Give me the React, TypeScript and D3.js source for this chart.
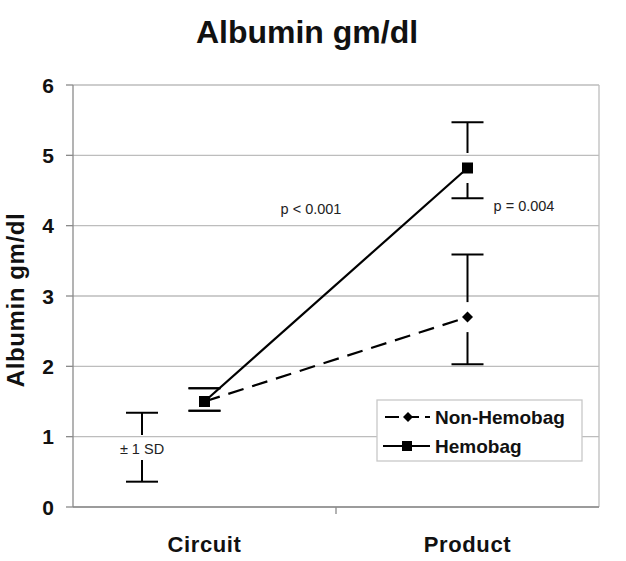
import React from "react";
import * as d3 from "d3";

const categories = ["Circuit", "Product"];
const yTicks = [0, 1, 2, 3, 4, 5, 6];

const hemobagMean = [1.5, 4.82];
const hemobagUpper = [1.69, 5.47];
const hemobagLower = [1.37, 4.39];

const nonHemobagMean = [1.5, 2.7];
const nonHemobagUpper = [1.69, 3.59];
const nonHemobagLower = [1.37, 2.03];

// "± 1 SD" example bar
const sdExample = { upper: 1.34, lower: 0.36 };

const pLabels = ["p < 0.001", "p = 0.004"];

const W = 626;
const H = 561;
const FONT = "'Liberation Sans', Arial, sans-serif";

const diamondPath = (r: number) => `M0,${-r}L${r},0L0,${r}L${-r},0Z`;

export default function App() {
  const x = d3.scaleBand<string>().domain(categories).range([73, 599]);
  const y = d3.scaleLinear().domain([0, 6]).range([507, 85]);
  const cx = (c: string) => (x(c) as number) + x.bandwidth() / 2;

  const line = d3
    .line<number>()
    .x((_, i) => cx(categories[i]))
    .y((d) => y(d));

  const gap = 15;
  const capW = 32;

  const errorBar = (xc: number, mean: number, up: number, lo: number, key: string) => {
    const ym = y(mean);
    const yu = y(up);
    const yl = y(lo);
    return (
      <g key={key} stroke="#000" strokeWidth={2}>
        <line x1={xc - capW / 2} x2={xc + capW / 2} y1={yu} y2={yu} />
        <line x1={xc - capW / 2} x2={xc + capW / 2} y1={yl} y2={yl} />
        {ym - gap > yu && <line x1={xc} x2={xc} y1={yu} y2={ym - gap} />}
        {yl > ym + gap && <line x1={xc} x2={xc} y1={ym + gap} y2={yl} />}
      </g>
    );
  };

  const sdX = 142;
  const sdMidY = 449;

  return (
    <svg
      width={W}
      height={H}
      style={{ position: "fixed", left: 0, top: 0, background: "#fff" }}
      fontFamily={FONT}
    >
      <rect x={0} y={0} width={W} height={H} fill="#fff" />
      {/* title */}
      <text x={307} y={43} textAnchor="middle" fontSize={32} fontWeight="bold" fill="#111">
        Albumin gm/dl
      </text>

      {/* gridlines */}
      {yTicks.map((t) => (
        <line key={t} x1={73} x2={599} y1={y(t)} y2={y(t)} stroke="#bdbdbd" strokeWidth={1.3} />
      ))}
      {/* right border */}
      <line x1={599} x2={599} y1={y(6)} y2={y(0)} stroke="#bdbdbd" strokeWidth={1.3} />
      {/* y axis */}
      <line x1={73} x2={73} y1={y(6)} y2={y(0)} stroke="#8a8a8a" strokeWidth={1.3} />
      {yTicks.map((t) => (
        <g key={"t" + t}>
          <line x1={66} x2={73} y1={y(t)} y2={y(t)} stroke="#8a8a8a" strokeWidth={1.3} />
          <text x={54} y={y(t) + 7.5} textAnchor="end" fontSize={21} fontWeight="bold" fill="#111">
            {t}
          </text>
        </g>
      ))}
      {/* x axis */}
      <line x1={73} x2={599} y1={y(0)} y2={y(0)} stroke="#8a8a8a" strokeWidth={1.3} />
      <line x1={x("Product") as number} x2={x("Product") as number} y1={y(0)} y2={y(0) + 7} stroke="#8a8a8a" strokeWidth={1.3} />
      {categories.map((c) => (
        <text key={c} x={cx(c)} y={552} textAnchor="middle" fontSize={22} fontWeight="bold" fill="#111" letterSpacing={0.6}>
          {c}
        </text>
      ))}
      {/* y label */}
      <text
        transform={`translate(24,${300}) rotate(-90)`}
        textAnchor="middle"
        fontSize={24}
        fontWeight="bold"
        fill="#111"
        letterSpacing={0.6}
      >
        Albumin gm/dl
      </text>

      {/* error bars */}
      {categories.map((c, i) => errorBar(cx(c), nonHemobagMean[i], nonHemobagUpper[i], nonHemobagLower[i], "n" + i))}
      {categories.map((c, i) => errorBar(cx(c), hemobagMean[i], hemobagUpper[i], hemobagLower[i], "h" + i))}

      {/* lines */}
      <path d={line(nonHemobagMean) || ""} fill="none" stroke="#000" strokeWidth={2.2} strokeDasharray="16 9" />
      <path d={line(hemobagMean) || ""} fill="none" stroke="#000" strokeWidth={2.2} />

      {/* markers */}
      {nonHemobagMean.map((v, i) => (
        <path
          key={"dm" + i}
          d={diamondPath(5.5)}
          transform={`translate(${cx(categories[i])},${y(v)})`}
          fill="#000"
        />
      ))}
      {hemobagMean.map((v, i) => (
        <rect key={"sm" + i} x={cx(categories[i]) - 5.5} y={y(v) - 5.5} width={11} height={11} fill="#000" />
      ))}

      {/* ±1 SD example */}
      <g stroke="#000" strokeWidth={2}>
        <line x1={sdX - 16} x2={sdX + 16} y1={y(sdExample.upper)} y2={y(sdExample.upper)} />
        <line x1={sdX - 16} x2={sdX + 16} y1={y(sdExample.lower)} y2={y(sdExample.lower)} />
        <line x1={sdX} x2={sdX} y1={y(sdExample.upper)} y2={sdMidY - 14} />
        <line x1={sdX} x2={sdX} y1={sdMidY + 11} y2={y(sdExample.lower)} />
      </g>
      <text x={sdX} y={sdMidY + 5} textAnchor="middle" fontSize={14.5} fill="#222">
        ± 1 SD
      </text>

      {/* p values */}
      <text x={311} y={214} textAnchor="middle" fontSize={14.5} fill="#222">
        {pLabels[0]}
      </text>
      <text x={524} y={211} textAnchor="middle" fontSize={14.5} fill="#222">
        {pLabels[1]}
      </text>

      {/* legend */}
      <rect x={377} y={400} width={205} height={61} fill="#fff" stroke="#c8c8c8" strokeWidth={1.3} />
      <line x1={383} x2={430} y1={417} y2={417} stroke="#000" strokeWidth={2.2} strokeDasharray="14 6" strokeDashoffset={-2} />
      <path d={diamondPath(5)} transform="translate(408,417)" fill="#000" />
      <text x={435} y={424} fontSize={19} fontWeight="bold" fill="#111">
        Non-Hemobag
      </text>
      <line x1={383} x2={430} y1={446} y2={446} stroke="#000" strokeWidth={2.2} />
      <rect x={402} y={441} width={10} height={10} fill="#000" />
      <text x={435} y={453} fontSize={19} fontWeight="bold" fill="#111">
        Hemobag
      </text>
    </svg>
  );
}
